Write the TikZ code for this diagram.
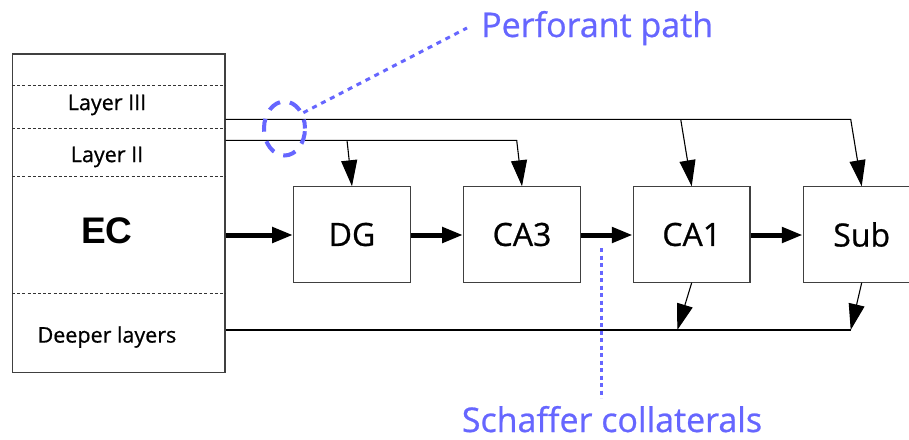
\documentclass[tikz,border=0pt]{standalone}
\usepackage{fontspec}
\setmainfont{Open Sans}[FakeBold=0.7]
\newfontfamily\ecfont{Liberation Sans}
\usetikzlibrary{arrows.meta,shapes.geometric}
\definecolor{hilite}{RGB}{102,102,255}
\tikzset{
  region/.style={draw=black!75, line width=1.2pt, minimum width=116.7pt, minimum height=95.3pt, inner sep=0pt, font=\fontsize{32}{34}\selectfont},
  feed/.style={line width=5pt, -{Triangle[length=21pt,width=15pt]}},
  thinlink/.style={line width=1.1pt},
  proj/.style={thinlink, -{Triangle[length=26pt,width=16pt]}},
  sublayer/.style={draw=black!80, line width=0.9pt, dash pattern=on 3pt off 2.2pt},
  layerlabel/.style={font=\fontsize{21.5}{24}\selectfont},
  note/.style={text=hilite, font=\fontsize{34}{36}\selectfont, inner sep=0pt}
}
\begin{document}
\begin{tikzpicture}[x=1pt, y=-1pt]
\clip (0,0) rectangle (909,439);
\fill[white] (0,0) rectangle (909,439);

% entorhinal cortex column
\node[draw=black!75, line width=1.2pt, minimum width=212.3pt, minimum height=318.3pt, inner sep=0pt] (ec) at (118.8,213.2) {};
\draw[sublayer] (ec.west |- 0,85.3) -- (ec.east |- 0,85.3);
\draw[sublayer] (ec.west |- 0,128.3) -- (ec.east |- 0,128.3);
\draw[sublayer] (ec.west |- 0,176) -- (ec.east |- 0,176);
\draw[sublayer] (ec.west |- 0,293) -- (ec.east |- 0,293);
\node[layerlabel] (l3) at (107,105) {Layer III};
\node[layerlabel] (l2) at (107,157) {Layer II};
\node[font=\ecfont\bfseries\fontsize{37}{40}\selectfont] (ectext) at (107,231) {EC};
\node[layerlabel] (deep) at (107,337) {Deeper layers};

% hippocampal stages
\node[region] (dg)  at (352,234.5) {DG};
\node[region] (ca3) at (522,234.5) {CA3};
\node[region] (ca1) at (691.7,234.5) {CA1};
\node[region] (sub) at (861.7,234.5) {Sub};

% trisynaptic loop
\draw[feed] (ec.east |- 0,235) -- (dg.west |- 0,235);
\draw[feed] (dg.east |- 0,235) -- (ca3.west |- 0,235);
\draw[feed] (ca3.east |- 0,235) -- (ca1.west |- 0,235);
\draw[feed] (ca1.east |- 0,235) -- (sub.west |- 0,235);

% direct projections from layers III and II
\coordinate (l3end) at (850.7,119.3);
\coordinate (l3ca1) at (680.7,119.3);
\coordinate (l2end) at (516.7,140.3);
\coordinate (l2dg) at (347,140.3);
\draw[proj] (ec.east |- l3end) -- (l3end) -- (sub.north);
\draw[proj] (l3ca1) -- (ca1.north);
\draw[proj] (ec.east |- l2end) -- (l2end) -- (ca3.north);
\draw[proj] (l2dg) -- (dg.north);

% return to deeper layers
\coordinate (dpend) at (850.7,330);
\coordinate (dpca1) at (677.3,330);
\draw[thinlink] (ec.east |- dpend) -- (dpend);
\draw[proj] (ca1.south) -- (dpca1);
\draw[proj] (sub.south) -- (dpend);

% annotations
\node[draw=hilite, ellipse, line width=4pt, dash pattern=on 13pt off 10pt, dash phase=4pt, minimum width=41pt, minimum height=54pt, inner sep=0pt] (pp) at (284.5,128.5) {};
\coordinate (pptail) at (467,28);
\draw[hilite, line width=3pt, dash pattern=on 5pt off 5pt] (pp.40) -- (pptail);
\node[note, anchor=base west] (pplabel) at (481,37) {Perforant path};

\coordinate (sctop) at (601.3,248);
\coordinate (scbot) at (601.3,398);
\draw[hilite, line width=3pt, dash pattern=on 4pt off 3.5pt] (sctop) -- (scbot);
\node[note, anchor=base] (sclabel) at (612,432) {Schaffer collaterals};
\end{tikzpicture}
\end{document}
